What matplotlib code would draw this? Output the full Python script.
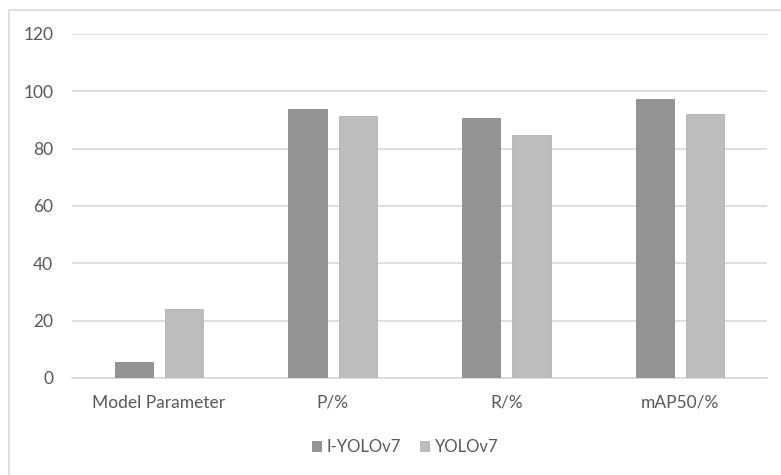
import numpy as np
import matplotlib
matplotlib.use("Agg")
import matplotlib.pyplot as plt
from matplotlib.patches import Rectangle

# Detection results: improved model vs baseline
categories = ["Model Parameter", "P/%", "R/%", "mAP50/%"]
i_yolov7 = [5.6, 94.0, 90.7, 97.2]
yolov7 = [24.1, 91.5, 84.6, 92.2]
series_names = ["I-YOLOv7", "YOLOv7"]
yticks = [0, 20, 40, 60, 80, 100, 120]

plt.rcParams["font.family"] = ["Lato", "DejaVu Sans"]
text_color = "#595959"
grid_color = "#d9d9d9"

fig = plt.figure(figsize=(7.81, 4.75), dpi=100)
ax = fig.add_axes([72 / 781, 1 - 378 / 475, 695 / 781, 344 / 475])

x = np.arange(len(categories))
width = 0.22
offset = 0.144
ax.bar(x - offset, i_yolov7, width, color="#939393", edgecolor="#8a8a8a",
       linewidth=0.6, label=series_names[0], zorder=3)
ax.bar(x + offset, yolov7, width, color="#bdbdbd", edgecolor="#b3b3b3",
       linewidth=0.6, label=series_names[1], zorder=3)

ax.set_xlim(-0.5, len(categories) - 0.5)
ax.set_ylim(0, 120)
ax.set_yticks(yticks)
ax.set_yticklabels([str(v) for v in yticks])
ax.set_xticks(x)
ax.set_xticklabels(categories)

ax.grid(axis="y", color=grid_color, linewidth=1.2, zorder=0)
ax.set_axisbelow(True)
for side in ["top", "right", "left"]:
    ax.spines[side].set_visible(False)
ax.spines["bottom"].set_color(grid_color)
ax.spines["bottom"].set_linewidth(1.2)
ax.tick_params(axis="both", length=0, colors=text_color, labelsize=12.5)
ax.tick_params(axis="y", pad=13.5)
ax.tick_params(axis="x", pad=12)

leg = fig.legend(loc="center", bbox_to_anchor=(405 / 781, 1 - 447 / 475), ncol=2,
                 frameon=False, fontsize=12, handlelength=0.55, handleheight=0.55,
                 handletextpad=0.35, columnspacing=1.1)
for t in leg.get_texts():
    t.set_color(text_color)

# Chart area border, running off the right and bottom edges
fig.patches.append(Rectangle((8.5 / 781, -0.1), 1.2, 1 - 9.5 / 475 + 0.1,
                             transform=fig.transFigure, fill=False,
                             edgecolor=grid_color, linewidth=1.2, clip_on=False))

fig.savefig("out.png", dpi=100, facecolor="white")
